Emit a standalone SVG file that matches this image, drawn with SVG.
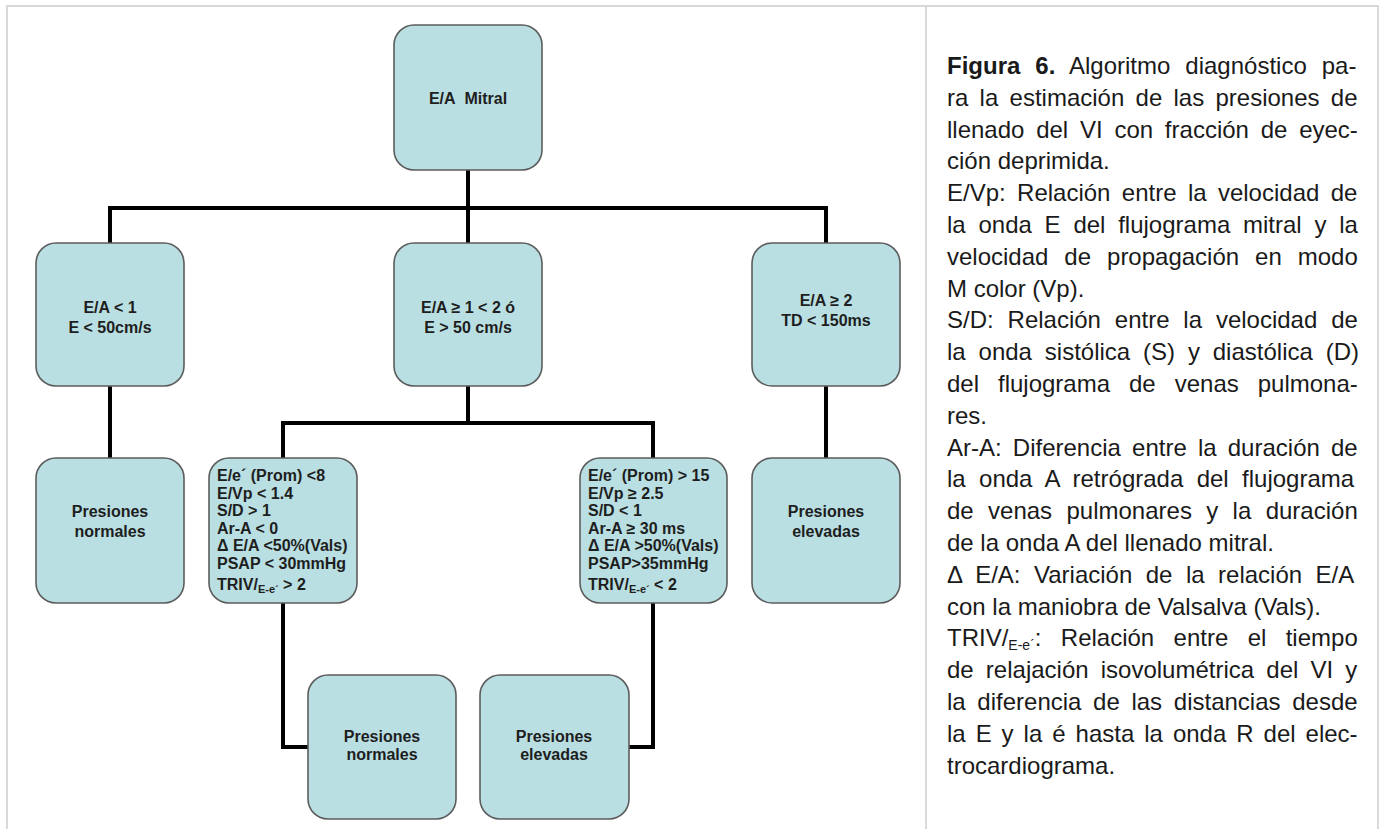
<svg xmlns="http://www.w3.org/2000/svg" width="1388" height="829" viewBox="0 0 1388 829">
<style>
.frame{fill:none;stroke:#d9d9d9;stroke-width:2}
.box{fill:#b9dfe2;stroke:#5c5c5c;stroke-width:1.6}
.bt{font-family:"Liberation Sans",Arial,sans-serif;font-weight:bold;font-size:16px;fill:#1e1e1e}
.c{text-anchor:middle}
.sub{font-size:11px}
.conn{fill:none;stroke:#000;stroke-width:4;stroke-linejoin:miter}
.cap{font-family:"Liberation Sans",Arial,sans-serif;font-size:24px;fill:#1a1a1a}
.b{font-weight:bold}
</style>
<rect width="1388" height="829" fill="#fff"/>
<g id="frame">
<path class="frame" d="M7,829 V6 H1378 V829 M926,6 V829"/>
</g>
<g id="connectors">
<path class="conn" d="M468,170 V243"/>
<path class="conn" d="M110,243 V208 H826 V243"/>
<path class="conn" d="M110,386 V458"/>
<path class="conn" d="M468,386 V423"/>
<path class="conn" d="M283,458 V423 H653 V458"/>
<path class="conn" d="M826,386 V458"/>
<path class="conn" d="M283,603 V747 H308"/>
<path class="conn" d="M653,603 V747 H629"/>
</g>
<g id="n-mitral">
<rect class="box" x="394" y="25" width="148" height="145" rx="20"/>
<text class="bt c" x="468" y="104">E/A&#160; Mitral</text>
</g>
<g id="n-ea-lt1">
<rect class="box" x="36" y="243" width="148" height="143" rx="20"/>
<text class="bt c" x="110" y="313">E/A &lt; 1</text>
<text class="bt c" x="110" y="333">E &lt; 50cm/s</text>
</g>
<g id="n-ea-mid">
<rect class="box" x="394" y="243" width="148" height="143" rx="20"/>
<text class="bt c" x="468" y="313">E/A ≥ 1 &lt; 2 ó</text>
<text class="bt c" x="468" y="333">E &gt; 50 cm/s</text>
</g>
<g id="n-ea-ge2">
<rect class="box" x="752" y="243" width="148" height="143" rx="20"/>
<text class="bt c" x="826" y="306">E/A ≥ 2</text>
<text class="bt c" x="826" y="326">TD &lt; 150ms</text>
</g>
<g id="n-normal-1">
<rect class="box" x="36" y="458" width="148" height="145" rx="20"/>
<text class="bt c" x="110" y="517">Presiones</text>
<text class="bt c" x="110" y="537">normales</text>
</g>
<g id="n-crit-normal">
<rect class="box" x="209" y="458" width="148" height="145" rx="20"/>
<text class="bt" x="217" y="481">E/e´ (Prom) &lt;8</text>
<text class="bt" x="217" y="498.5">E/Vp &lt; 1.4</text>
<text class="bt" x="217" y="516">S/D &gt; 1</text>
<text class="bt" x="217" y="533.5">Ar-A &lt; 0</text>
<text class="bt" x="217" y="551">Δ E/A &lt;50%(Vals)</text>
<text class="bt" x="217" y="568.5">PSAP &lt; 30mmHg</text>
<text class="bt" x="217" y="590">TRIV/<tspan class="sub" dy="3">E-e´</tspan><tspan dy="-3"> &gt; 2</tspan></text>
</g>
<g id="n-crit-elev">
<rect class="box" x="580" y="458" width="147" height="145" rx="20"/>
<text class="bt" x="588" y="481">E/e´ (Prom) &gt; 15</text>
<text class="bt" x="588" y="498.5">E/Vp ≥ 2.5</text>
<text class="bt" x="588" y="516">S/D &lt; 1</text>
<text class="bt" x="588" y="533.5">Ar-A ≥ 30 ms</text>
<text class="bt" x="588" y="551">Δ E/A &gt;50%(Vals)</text>
<text class="bt" x="588" y="568.5">PSAP&gt;35mmHg</text>
<text class="bt" x="588" y="590">TRIV/<tspan class="sub" dy="3">E-e´</tspan><tspan dy="-3"> &lt; 2</tspan></text>
</g>
<g id="n-elev-1">
<rect class="box" x="752" y="458" width="148" height="145" rx="20"/>
<text class="bt c" x="826" y="517">Presiones</text>
<text class="bt c" x="826" y="537">elevadas</text>
</g>
<g id="n-normal-2">
<rect class="box" x="308" y="675" width="148" height="144" rx="20"/>
<text class="bt c" x="382" y="742">Presiones</text>
<text class="bt c" x="382" y="760">normales</text>
</g>
<g id="n-elev-2">
<rect class="box" x="480" y="675" width="149" height="144" rx="20"/>
<text class="bt c" x="554" y="742">Presiones</text>
<text class="bt c" x="554" y="760">elevadas</text>
</g>
<g id="caption">
<text class="cap" x="947" y="74" style="word-spacing:8.3px"><tspan class="b">Figura 6.</tspan> Algoritmo diagnóstico pa-</text>
<text class="cap" x="947" y="105.8" style="word-spacing:4.6px">ra la estimación de las presiones de</text>
<text class="cap" x="947" y="137.6" style="word-spacing:5.1px">llenado del VI con fracción de eyec-</text>
<text class="cap" x="947" y="169.4">ción deprimida.</text>
<text class="cap" x="947" y="201.2" style="word-spacing:4.7px">E/Vp: Relación entre la velocidad de</text>
<text class="cap" x="947" y="233" style="word-spacing:6.1px">la onda E del flujograma mitral y la</text>
<text class="cap" x="947" y="264.8" style="word-spacing:9.3px">velocidad de propagación en modo</text>
<text class="cap" x="947" y="296.6">M color (Vp).</text>
<text class="cap" x="947" y="328.4" style="word-spacing:7.2px">S/D: Relación entre la velocidad de</text>
<text class="cap" x="947" y="360.2" style="word-spacing:6.2px">la onda sistólica (S) y diastólica (D)</text>
<text class="cap" x="947" y="392" style="word-spacing:12.3px">del flujograma de venas pulmona-</text>
<text class="cap" x="947" y="423.8">res.</text>
<text class="cap" x="947" y="455.6" style="word-spacing:4.5px">Ar-A: Diferencia entre la duración de</text>
<text class="cap" x="947" y="487.4" style="word-spacing:6.7px">la onda A retrógrada del flujograma</text>
<text class="cap" x="947" y="519.2" style="word-spacing:7.7px">de venas pulmonares y la duración</text>
<text class="cap" x="947" y="551">de la onda A del llenado mitral.</text>
<text class="cap" x="947" y="582.8" style="word-spacing:6.8px">Δ E/A: Variación de la relación E/A</text>
<text class="cap" x="947" y="614.6">con la maniobra de Valsalva (Vals).</text>
<text class="cap" x="947" y="646.4" style="word-spacing:12.7px">TRIV/<tspan font-size="14" dy="4">E-e´</tspan><tspan dy="-4">: Relación entre el tiempo</tspan></text>
<text class="cap" x="947" y="678.2" style="word-spacing:5.5px">de relajación isovolumétrica del VI y</text>
<text class="cap" x="947" y="710" style="word-spacing:5px">la diferencia de las distancias desde</text>
<text class="cap" x="947" y="741.8" style="word-spacing:3.3px">la E y la é hasta la onda R del elec-</text>
<text class="cap" x="947" y="773.6">trocardiograma.</text>
</g>
</svg>
